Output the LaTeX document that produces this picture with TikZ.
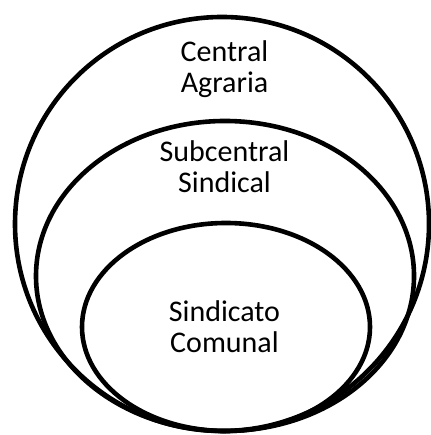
\documentclass[tikz,border=0pt]{standalone}
\usepackage{fontspec}
\setmainfont{Carlito}
\begin{document}
\begin{tikzpicture}[x=1pt,y=1pt,
  ring/.style={line width=4.6pt,draw=black},
  lbl/.style={align=center,inner sep=0pt,anchor=base,
    font=\fontsize{30}{31.5}\selectfont}]
\useasboundingbox (0,0) rectangle (430,435);
\draw[ring] (222,211) circle[radius=207];
\draw[ring] (225,159) ellipse[x radius=189,y radius=155];
\draw[ring] (226,108) ellipse[x radius=144,y radius=104];
\node[lbl] (central) at (224.5,342) {Central\\Agraria};
\node[lbl] (subcentral) at (224.5,242) {Subcentral\\Sindical};
\node[lbl] (sindicato) at (224.5,82) {Sindicato\\Comunal};
\end{tikzpicture}
\end{document}
